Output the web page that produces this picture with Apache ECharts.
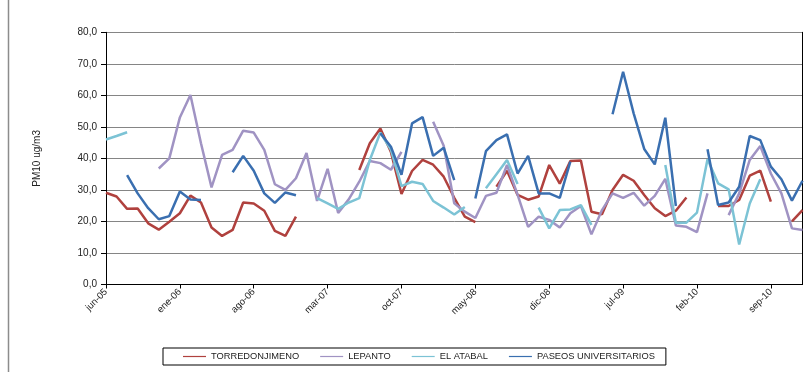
<!DOCTYPE html>
<html>
<head>
<meta charset="utf-8">
<script src="https://cdn.jsdelivr.net/npm/echarts@6/dist/echarts.min.js"></script>
<style>
  html, body { margin: 0; padding: 0; background: #fff; }
  #chart { width: 811px; height: 372px; }
</style>
</head>
<body>
<div id="chart"></div>
<script>
// Monthly categories, jun-05 .. dic-10
const months = [
  'jun-05','jul-05','ago-05','sep-05','oct-05','nov-05','dic-05',
  'ene-06','feb-06','mar-06','abr-06','may-06','jun-06','jul-06','ago-06','sep-06','oct-06','nov-06','dic-06',
  'ene-07','feb-07','mar-07','abr-07','may-07','jun-07','jul-07','ago-07','sep-07','oct-07','nov-07','dic-07',
  'ene-08','feb-08','mar-08','abr-08','may-08','jun-08','jul-08','ago-08','sep-08','oct-08','nov-08','dic-08',
  'ene-09','feb-09','mar-09','abr-09','may-09','jun-09','jul-09','ago-09','sep-09','oct-09','nov-09','dic-09',
  'ene-10','feb-10','mar-10','abr-10','may-10','jun-10','jul-10','ago-10','sep-10','oct-10','nov-10','dic-10'
];

// Monthly PM10 means (ug/m3); null = no data that month
const torredonjimeno = [
  29.1, 27.9, 24.0, 24.1, 19.4, 17.4, 19.9, 22.6, 28.2, 26.0,
  18.1, 15.4, 17.3, 26.0, 25.7, 23.4, 17.0, 15.4, 21.5, null,
  null, null, null, null, 36.3, 44.8, 49.5, 42.0, 28.7, 36.0,
  39.5, 38.0, 34.2, 27.5, 21.5, 19.8, null, 31.0, 36.1, 28.4,
  26.9, 27.9, 37.9, 32.0, 39.2, 39.3, 23.1, 22.3, 30.0, 34.8,
  32.9, 28.4, 24.2, 21.7, 23.4, 27.6, null, null, 24.9, 24.9,
  26.8, 34.5, 36.1, 26.3, null, 20.0, 23.6
];
const lepanto = [
  null, null, null, null, null, 36.8, 40.0, 53.0, 60.1, 44.8,
  30.8, 41.1, 42.7, 48.8, 48.2, 42.7, 31.8, 30.0, 33.7, 41.7,
  26.5, 36.7, 22.7, 27.0, 32.6, 39.2, 38.5, 36.4, 42.1, null,
  null, 51.6, 44.0, 25.8, 23.1, 21.1, 28.1, 29.1, 37.9, 28.5,
  18.3, 21.5, 20.5, 18.1, 22.6, 24.9, 15.9, 23.6, 28.9, 27.5,
  29.1, 25.0, 28.1, 33.5, 18.7, 18.3, 16.6, 28.9, null, 22.0,
  28.9, 39.5, 43.9, 35.2, 28.9, 17.8, 17.3
];
const elAtabal = [
  46.0, 47.1, 48.3, null, null, null, null, null, null, null,
  null, null, null, null, null, null, null, null, null, null,
  27.4, 25.7, 24.0, 26.0, 27.4, 39.5, 48.2, 42.7, 31.2, 32.6,
  31.9, 26.5, 24.4, 22.2, 24.6, null, 30.5, 35.0, 39.5, 31.9,
  null, 24.4, 17.8, 23.6, 23.8, 25.2, 18.9, null, null, null,
  null, null, null, 37.9, 19.6, 19.6, 22.8, 39.7, 32.1, 30.2,
  12.7, 25.7, 33.4, null, null, null, null
];
const paseosUniversitarios = [
  null, null, 34.7, 28.9, 24.2, 20.7, 21.7, 29.5, 27.0, 26.8,
  null, null, 35.6, 40.8, 36.1, 28.9, 25.9, 29.2, 28.3, null,
  null, null, null, null, null, null, 48.0, 43.7, 34.8, 51.1,
  53.1, 40.8, 43.4, 33.1, null, 27.3, 42.3, 45.8, 47.6, 35.2,
  40.8, 28.9, 28.9, 27.5, 39.0, null, null, null, 54.0, 67.5,
  54.3, 43.0, 38.1, 52.9, 24.9, null, null, 42.9, 25.2, 26.0,
  31.0, 47.1, 45.8, 37.4, 33.4, 26.6, 32.9
];

const seriesNames = ['TORREDONJIMENO', 'LEPANTO', 'EL ATABAL', 'PASEOS UNIVERSITARIOS'];
const seriesColors = ['#B0413E', '#A093C3', '#7CC3D5', '#3A6FB0'];
const seriesData = [torredonjimeno, lepanto, elAtabal, paseosUniversitarios];

const FONT = '"Liberation Sans", Arial, sans-serif';

const chart = echarts.init(document.getElementById('chart'), null, { renderer: 'canvas' });

chart.setOption({
  animation: false,
  backgroundColor: '#fff',
  grid: { left: 106, right: 8.5, top: 32.3, bottom: 87.5, containLabel: false },
  xAxis: [
    {
      type: 'category',
      data: months,
      boundaryGap: false,
      axisLine: { show: true, lineStyle: { color: '#000', width: 1 } },
      axisTick: { show: true, interval: 6, length: 4, lineStyle: { color: '#000' } },
      axisLabel: {
        interval: 6, rotate: 45, margin: 6,
        fontFamily: FONT, fontSize: 9.5, color: '#222'
      },
      splitLine: { show: false }
    },
    {
      type: 'category',
      data: months,
      boundaryGap: false,
      position: 'top',
      axisLine: { show: true, lineStyle: { color: '#000', width: 1 } },
      axisTick: { show: false },
      axisLabel: { show: false },
      splitLine: { show: false }
    }
  ],
  yAxis: [
    {
      type: 'value',
      min: 0, max: 80, interval: 10,
      name: 'PM10 ug/m3',
      nameLocation: 'middle',
      nameGap: 64,
      nameRotate: 90,
      nameTextStyle: { fontFamily: FONT, fontSize: 10, color: '#222' },
      axisLine: { show: true, lineStyle: { color: '#000', width: 1 } },
      axisTick: { show: true, length: 5, lineStyle: { color: '#000' } },
      axisLabel: {
        margin: 9,
        fontFamily: FONT, fontSize: 10, color: '#222',
        formatter: v => v.toFixed(1).replace('.', ',')
      },
      splitLine: { show: true, lineStyle: { color: '#858585', width: 1 } }
    },
    {
      type: 'value',
      min: 0, max: 80, interval: 10,
      position: 'right',
      axisLine: { show: true, lineStyle: { color: '#000', width: 1 } },
      axisTick: { show: false },
      axisLabel: { show: false },
      splitLine: { show: false }
    }
  ],
  legend: {
    data: seriesNames,
    left: 163,
    top: 348,
    orient: 'horizontal',
    borderColor: '#000',
    borderWidth: 1,
    padding: [4, 11, 4, 20],
    itemGap: 21,
    itemWidth: 23,
    itemHeight: 1.2,
    icon: 'rect',
    textStyle: { fontFamily: FONT, fontSize: 9.3, color: '#222' }
  },
  graphic: [
    {
      type: 'line',
      shape: { x1: 8.5, y1: 0, x2: 8.5, y2: 372 },
      style: { stroke: '#8c8c8c', lineWidth: 1.5 },
      silent: true
    }
  ],
  series: seriesNames.map((name, k) => ({
    name: name,
    type: 'line',
    data: seriesData[k],
    showSymbol: false,
    symbol: 'none',
    connectNulls: false,
    smooth: false,
    color: seriesColors[k],
    lineStyle: { color: seriesColors[k], width: 2.5 },
    z: 2 + k
  }))
});
</script>
</body>
</html>
